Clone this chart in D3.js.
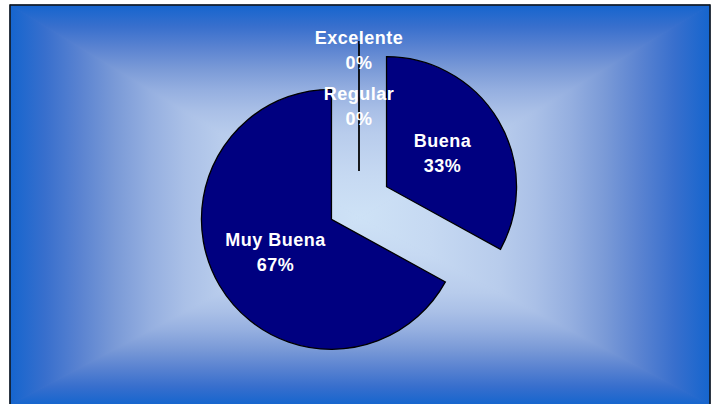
<!DOCTYPE html>
<html>
<head>
<meta charset="utf-8">
<script src="https://cdn.jsdelivr.net/npm/d3@7"></script>
<style>
  html, body { margin: 0; padding: 0; background: #ffffff; }
  svg { display: block; }
</style>
</head>
<body>
<svg id="chart" width="711" height="404"></svg>
<script>
// Survey ratings, in the order they run clockwise from 12 o'clock
const categories = ["Regular", "Buena", "Muy Buena", "Excelente"];
const values = [0, 33, 67, 0];

const svg = d3.select("#chart");
const W = 711, H = 404;

// Chart area frame and the point its "from center" gradient fades towards
const frame = { x0: 10, y0: 5, x1: 710, y1: 405 };
const glow = { x: 360, y: 218 };

// Pie geometry
const cx = 359, cy = 203, radius = 130, explode = 32;

// ---- background: rectangular gradient built from four triangles ----
const stops = [
  [0.00, "#1565ce"], [0.10, "#386fcd"], [0.20, "#5a83d1"], [0.30, "#7a9ad7"],
  [0.40, "#95afe0"], [0.50, "#aac0e7"], [0.60, "#b8ccec"], [0.80, "#c6d9f2"],
  [1.00, "#cee2f6"]
];
const defs = svg.append("defs");
const sides = [
  { id: "bgTop",    pts: [[frame.x0, frame.y0], [frame.x1, frame.y0], [glow.x, glow.y]], g: [0, frame.y0, 0, glow.y] },
  { id: "bgBottom", pts: [[frame.x0, frame.y1], [frame.x1, frame.y1], [glow.x, glow.y]], g: [0, frame.y1, 0, glow.y] },
  { id: "bgLeft",   pts: [[frame.x0, frame.y0], [frame.x0, frame.y1], [glow.x, glow.y]], g: [frame.x0, 0, glow.x, 0] },
  { id: "bgRight",  pts: [[frame.x1, frame.y0], [frame.x1, frame.y1], [glow.x, glow.y]], g: [frame.x1, 0, glow.x, 0] }
];
sides.forEach(s => {
  const lg = defs.append("linearGradient")
    .attr("id", s.id)
    .attr("gradientUnits", "userSpaceOnUse")
    .attr("x1", s.g[0]).attr("y1", s.g[1])
    .attr("x2", s.g[2]).attr("y2", s.g[3]);
  stops.forEach(([o, c]) => lg.append("stop").attr("offset", o).attr("stop-color", c));
});

svg.append("rect")
  .attr("x", frame.x0).attr("y", frame.y0)
  .attr("width", frame.x1 - frame.x0).attr("height", frame.y1 - frame.y0)
  .attr("fill", "#7a9ad7");

svg.append("g").selectAll("polygon")
  .data(sides)
  .join("polygon")
  .attr("points", d => d.pts.map(p => p.join(",")).join(" "))
  .attr("fill", d => `url(#${d.id})`)
  .attr("stroke", d => `url(#${d.id})`)
  .attr("stroke-width", 1);

svg.append("rect")
  .attr("x", frame.x0).attr("y", frame.y0)
  .attr("width", frame.x1 - frame.x0).attr("height", frame.y1 - frame.y0)
  .attr("fill", "none")
  .attr("stroke", "#111111")
  .attr("stroke-width", 1.5);

// ---- pie ----
const data = categories.map((c, i) => ({ name: c, value: values[i] }));
const total = d3.sum(values);
const pie = d3.pie().value(d => d.value).sort(null);
const arcs = pie(data);
const arc = d3.arc().innerRadius(0).outerRadius(radius);

function offset(a) {
  const mid = (a.startAngle + a.endAngle) / 2;
  return [Math.sin(mid) * explode, -Math.cos(mid) * explode];
}

const g = svg.append("g").attr("transform", `translate(${cx},${cy})`);

g.selectAll("path")
  .data(arcs)
  .join("path")
  .attr("transform", d => `translate(${offset(d)})`)
  .attr("d", arc)
  .attr("fill", "#000080")
  .attr("stroke", "#000000")
  .attr("stroke-width", 1.3)
  .attr("stroke-linejoin", "miter");

// ---- data labels: name and percentage, placed at the slice centroid;
// a label that would collide with one already placed is pushed outward ----
const lineH = 25;
const placed = [];
const labels = arcs.map(a => {
  const [ox, oy] = offset(a);
  const [lx, ly] = arc.centroid(a);
  const mid = (a.startAngle + a.endAngle) / 2;
  let x = lx + ox, y = ly + oy;
  const h = lineH * 2 + 6;
  while (placed.some(p => Math.abs(p.y - y) < h && Math.abs(p.x - x) < 80)) {
    x += Math.sin(mid) * 2;
    y -= Math.cos(mid) * 2;
  }
  placed.push({ x, y });
  return { a, x, y };
});

const txt = g.selectAll("text")
  .data(labels)
  .join("text")
  .attr("text-anchor", "middle")
  .attr("fill", "#ffffff")
  .attr("font-family", "'Liberation Sans', Arial, sans-serif")
  .attr("font-weight", "bold")
  .attr("font-size", 18)
  .attr("letter-spacing", 0.5);

txt.append("tspan")
  .attr("x", d => d.x)
  .attr("y", d => d.y - 6.3)
  .text(d => d.a.data.name);
txt.append("tspan")
  .attr("x", d => d.x)
  .attr("y", d => d.y - 6.3 + lineH)
  .text(d => d3.format(".0%")(d.a.data.value / total));
</script>
</body>
</html>
